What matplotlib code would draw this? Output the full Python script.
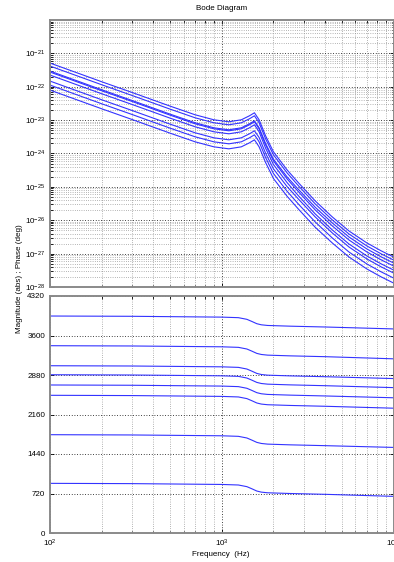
import numpy as np
import matplotlib
matplotlib.use("Agg")
import matplotlib.pyplot as plt
from matplotlib.ticker import LogLocator, NullFormatter, FixedLocator

plt.rcParams['font.family'] = ['Liberation Sans', 'DejaVu Sans']

# ---------------- data ----------------
mag_freq = [100, 200, 300, 500, 700, 900, 1100, 1300, 1450, 1550, 1650, 1800,
            2000, 2400, 2800, 3500, 4400, 5500, 7000, 8500, 10000]

# log10 magnitude for each response
mag_log_1 = [-21.29, -21.85, -22.17, -22.58, -22.84, -22.99, -23.05, -22.99, -22.87, -22.78, -22.99, -23.47, -23.95, -24.49, -24.88, -25.42, -25.90, -26.32, -26.68, -26.92, -27.10]
mag_log_2 = [-21.38, -21.94, -22.26, -22.67, -22.93, -23.08, -23.14, -23.08, -22.96, -22.87, -23.08, -23.56, -24.04, -24.58, -24.97, -25.51, -25.99, -26.41, -26.77, -27.01, -27.19]
mag_log_3 = [-21.53, -22.09, -22.41, -22.82, -23.08, -23.23, -23.29, -23.23, -23.11, -23.02, -23.23, -23.70, -24.17, -24.70, -25.08, -25.61, -26.08, -26.50, -26.86, -27.10, -27.28]
mag_log_4 = [-21.56, -22.12, -22.44, -22.85, -23.11, -23.26, -23.32, -23.26, -23.14, -23.05, -23.26, -23.74, -24.22, -24.76, -25.15, -25.69, -26.17, -26.59, -26.95, -27.19, -27.37]
mag_log_5 = [-21.65, -22.21, -22.53, -22.94, -23.20, -23.35, -23.41, -23.35, -23.23, -23.14, -23.35, -23.84, -24.33, -24.87, -25.27, -25.81, -26.29, -26.71, -27.07, -27.31, -27.49]
mag_log_6 = [-21.83, -22.39, -22.71, -23.12, -23.38, -23.53, -23.59, -23.53, -23.41, -23.32, -23.52, -23.99, -24.46, -24.99, -25.37, -25.90, -26.38, -26.80, -27.16, -27.40, -27.58]
mag_log_7 = [-21.95, -22.51, -22.83, -23.24, -23.50, -23.65, -23.71, -23.65, -23.53, -23.44, -23.65, -24.12, -24.60, -25.13, -25.52, -26.05, -26.53, -26.95, -27.31, -27.55, -27.73]
mag_log_8 = [-22.10, -22.66, -22.98, -23.39, -23.65, -23.80, -23.86, -23.80, -23.68, -23.59, -23.80, -24.27, -24.75, -25.28, -25.67, -26.21, -26.68, -27.10, -27.46, -27.70, -27.88]

phase_freq = [100, 300, 1000, 1250, 1400, 1500, 1600, 1700, 1850, 2500, 4000, 10000]

phase_1 = [3955, 3950, 3935, 3925, 3895, 3855, 3815, 3795, 3783, 3770, 3755, 3720]
phase_2 = [3414, 3409, 3394, 3384, 3354, 3314, 3274, 3254, 3242, 3229, 3214, 3175]
phase_3 = [3049, 3044, 3029, 3019, 2989, 2949, 2909, 2889, 2877, 2864, 2849, 2815]
phase_4 = [2885, 2880, 2865, 2855, 2825, 2785, 2745, 2725, 2713, 2700, 2685, 2650]
phase_5 = [2698, 2693, 2678, 2668, 2638, 2598, 2558, 2538, 2526, 2513, 2498, 2465]
phase_6 = [2510, 2505, 2490, 2480, 2450, 2410, 2370, 2350, 2338, 2325, 2310, 2275]
phase_7 = [1792, 1787, 1772, 1762, 1732, 1692, 1652, 1632, 1620, 1607, 1592, 1560]
phase_8 = [905, 900, 885, 875, 845, 805, 765, 745, 733, 720, 705, 668]

mag_curves = [mag_log_1, mag_log_2, mag_log_3, mag_log_4,
              mag_log_5, mag_log_6, mag_log_7, mag_log_8]
phase_curves = [phase_1, phase_2, phase_3, phase_4,
                phase_5, phase_6, phase_7, phase_8]

mag_ticks = [1e-28, 1e-27, 1e-26, 1e-25, 1e-24, 1e-23, 1e-22, 1e-21]
phase_ticks = [0, 720, 1440, 2160, 2880, 3600, 4320]

title_text = "Bode Diagram"
ylabel_text = "Magnitude (abs) ; Phase (deg)"
xlabel_text = "Frequency  (Hz)"

# ---------------- figure ----------------
W, H = 394, 562
fig = plt.figure(figsize=(W / 100, H / 100), dpi=100)

def fx(px):
    return px / W

def fy(py):
    return 1 - py / H

FS = 5.8
left, right = 50, 393.5
ax1 = fig.add_axes([fx(left), fy(287), fx(right - left), (287 - 20) / H])
ax2 = fig.add_axes([fx(left), fy(533), fx(right - left), (533 - 296) / H])

line_color = (0.2, 0.2, 1.0)
spine_color = '#8a8a8a'

for ax in (ax1, ax2):
    ax.set_xscale('log')
    ax.set_xlim(100, 10000)
    for s in ax.spines.values():
        s.set_color(spine_color)
        s.set_linewidth(1.4)
    ax.tick_params(which='both', direction='in', top=True, right=True,
                   labelsize=FS, colors='black', length=3, width=0.6)
    ax.tick_params(which='minor', length=1.8)
    ax.grid(True, which='major', color='black', linestyle=(0, (1, 2.2)), linewidth=0.6)
    ax.grid(True, which='minor', color='#707070', linestyle=(0, (1, 2.2)), linewidth=0.5)
    ax.set_axisbelow(True)

# magnitude
for c in mag_curves:
    ax1.plot(mag_freq, 10.0 ** np.array(c), color=line_color, linewidth=0.8)
ax1.set_yscale('log')
ax1.set_ylim(1e-28, 1e-20)
ax1.yaxis.set_major_locator(FixedLocator(mag_ticks))
ax1.yaxis.set_minor_locator(LogLocator(base=10, subs=np.arange(2, 10), numticks=100))
ax1.yaxis.set_minor_formatter(NullFormatter())
ax1.xaxis.set_major_formatter(NullFormatter())
ax1.xaxis.set_minor_formatter(NullFormatter())
ax1.xaxis.set_minor_locator(LogLocator(base=10, subs=np.arange(2, 10), numticks=100))
fig.text(fx(222), fy(8), title_text, ha='center', va='center', fontsize=FS)

# phase
for c in phase_curves:
    ax2.plot(phase_freq, c, color=line_color, linewidth=0.8)
ax2.set_ylim(0, 4320)
ax2.set_yticks(phase_ticks)
ax2.set_yticklabels([str(t) for t in phase_ticks])
ax2.yaxis.grid(False, which='minor')
ax2.xaxis.set_minor_locator(LogLocator(base=10, subs=np.arange(2, 10), numticks=100))
ax2.xaxis.set_minor_formatter(NullFormatter())

fig.text(fx(221), fy(554), xlabel_text, ha='center', va='center', fontsize=FS)
fig.text(fx(20), fy(279), ylabel_text, rotation=90, ha='center', va='center', fontsize=FS)

fig.savefig('out.png', dpi=100)
